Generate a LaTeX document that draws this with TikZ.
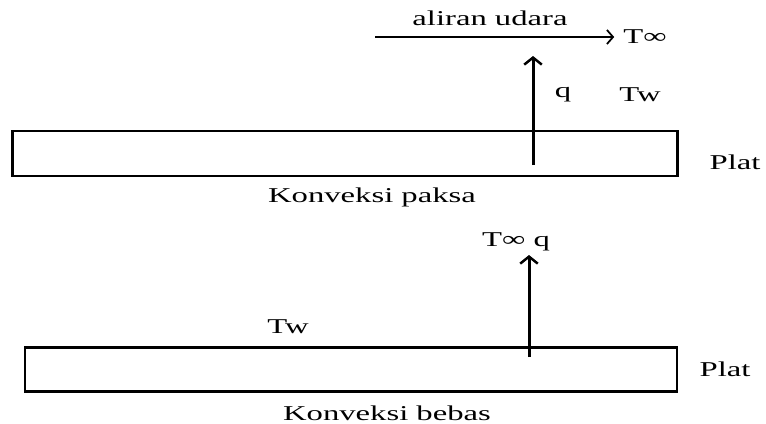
\documentclass[tikz,border=0pt]{standalone}
\usepackage{fontspec}
\setmainfont{Liberation Serif}[FakeStretch=1.55]
\usetikzlibrary{arrows.meta, positioning}

\begin{document}
\begin{tikzpicture}[x=0.02cm, y=-0.02cm,
        plate/.style={draw, line width=1.4pt, rectangle, inner sep=0pt, minimum height=0.9cm},
        lbl/.style={font=\fontsize{12}{14}\selectfont, inner sep=1pt},
        flux/.style={line width=1.7pt, -{Straight Barb[length=4pt, width=10pt, line width=1.4pt]}},
        flow/.style={line width=1pt, -{Straight Barb[length=3.5pt, width=8pt]}}
    ]
        \useasboundingbox (0,0) rectangle (766,423);
        % konveksi paksa
        \node (plate1) [plate, minimum width=13.3cm] at (345,153.5) {};
        \node (plat1) [lbl] at (735,162) {Plat};
        \node (name1) [lbl] at (372,197) {Konveksi paksa};
        \node (air) [lbl] at (490,18) {aliran udara};
        \node (tinf1) [lbl] at (645,37) {T∞};
        \node (q1) [lbl] at (563,95) {q};
        \node (tw1) [lbl] at (640,95) {Tw};
        \coordinate (qbase1) at (533,165);
        \coordinate (qtop1) at (533,56);
        \coordinate (flowstart) at (375,37);
        \draw [flux] (qbase1) -- (qtop1);
        \draw [flow, shorten >=4pt] (flowstart) -- (tinf1.west);
        % konveksi bebas
        \node (plate2) [plate, minimum width=13.05cm, minimum height=0.88cm] at (351,369.5) {};
        \node (plat2) [lbl] at (725,369) {Plat};
        \node (name2) [lbl] at (387,413) {Konveksi bebas};
        \node (tw2) [lbl] at (288,327) {Tw};
        \node (tinf2) [lbl] at (516,242) {T∞ q};
        \coordinate (qbase2) at (529,357);
        \draw [flux, shorten >=1pt] (qbase2) -- (tinf2.south -| qbase2);
\end{tikzpicture}
\end{document}
